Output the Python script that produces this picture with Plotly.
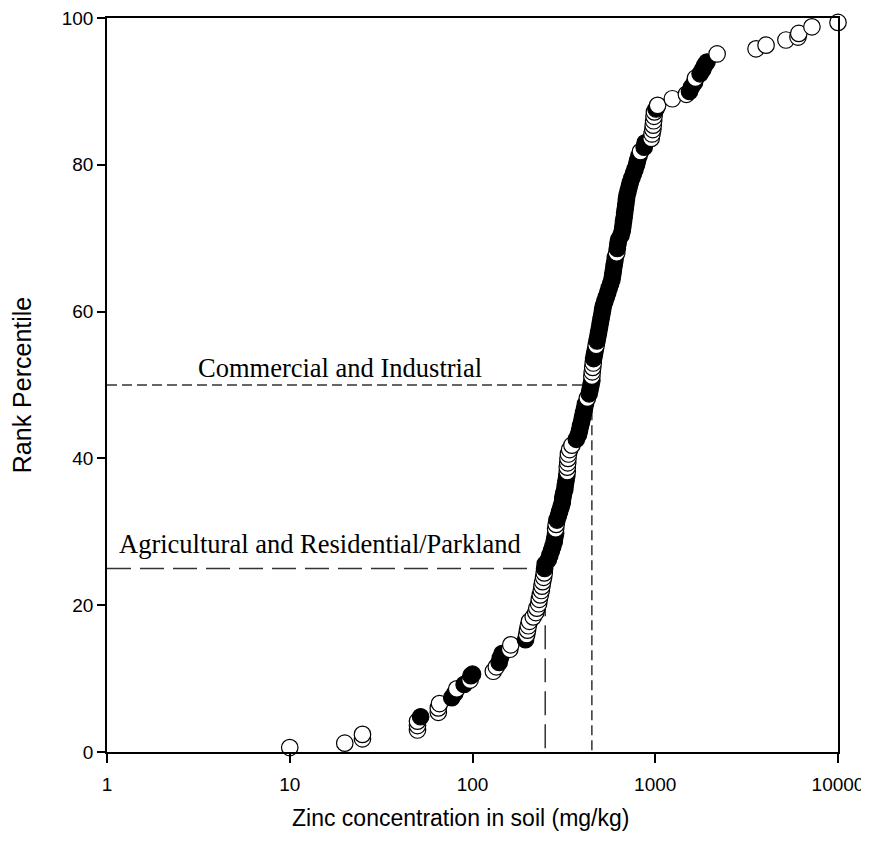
import plotly.graph_objects as go

# Zinc concentration (mg/kg), rank percentile, and sample group (1 = filled, 0 = open), in rank order
zinc = [10, 20, 25, 25, 50, 50, 50, 52, 65, 65, 66, 77, 80, 82, 90, 97, 98, 100,
        130, 135, 140, 142, 145, 160, 162, 195, 198, 200, 202, 205, 215, 222, 225,
        230, 232, 235, 238, 240, 242, 245, 247, 248, 250, 260, 265, 270, 275, 280,
        282, 285, 285, 287, 290, 295, 300, 305, 310, 312, 315, 320, 322, 325, 328,
        330, 330, 332, 333, 335, 340, 350, 370, 380, 385, 390, 395, 400, 405, 410,
        415, 425, 435, 440, 445, 450, 450, 452, 455, 458, 460, 465, 470, 475, 480,
        485, 490, 495, 500, 505, 510, 515, 520, 530, 540, 550, 560, 570, 580, 585,
        590, 595, 600, 605, 615, 620, 625, 630, 650, 660, 665, 670, 675, 680, 685,
        690, 695, 700, 710, 720, 730, 745, 760, 775, 790, 800, 815, 830, 870, 880,
        950, 960, 970, 975, 980, 985, 990, 1010, 1030, 1240, 1480, 1540, 1580, 1640,
        1660, 1760, 1820, 1870, 1920, 2180, 3560, 4040, 5190, 6040, 6100, 7200, 10000]
rank_pct = [0.6, 1.2, 1.8, 2.4, 3.0, 3.6, 4.2, 4.8, 5.4, 6.0, 6.6, 7.4, 8.0, 8.6, 9.2, 9.8, 10.4, 10.6,
            11.0, 11.6, 12.2, 12.8, 13.4, 14.0, 14.6, 15.3, 16.0, 16.6, 17.2, 17.8, 18.4, 19.0, 19.6,
            20.2, 20.8, 21.4, 22.0, 22.6, 23.2, 23.8, 24.4, 25.0, 25.6, 26.2, 26.8, 27.4, 28.0, 28.6,
            29.2, 29.8, 30.4, 31.0, 31.6, 32.2, 32.8, 33.4, 34.0, 34.6, 35.2, 35.8, 36.4, 37.0, 37.6,
            38.2, 38.8, 39.4, 40.0, 40.6, 41.2, 41.8, 42.6, 43.2, 43.8, 44.4, 45.0, 45.6, 46.2, 46.8,
            47.4, 48.2, 48.8, 49.4, 50.0, 50.6, 51.2, 51.8, 52.4, 53.0, 53.6, 54.2, 54.8, 55.4, 56.0,
            56.6, 57.2, 57.8, 58.4, 59.0, 59.6, 60.2, 60.8, 61.4, 62.0, 62.6, 63.2, 63.8, 64.4, 65.0,
            65.6, 66.2, 66.8, 67.4, 68.0, 68.6, 69.2, 69.8, 70.4, 71.0, 71.6, 72.2, 72.8, 73.4, 74.0,
            74.6, 75.2, 75.8, 76.4, 77.0, 77.6, 78.2, 78.8, 79.4, 80.0, 80.6, 81.2, 81.8, 82.4, 83.0,
            83.6, 84.2, 84.8, 85.4, 86.0, 86.6, 87.2, 87.6, 88.1, 89.0, 89.6, 90.0, 90.6, 91.2,
            91.8, 92.4, 93.0, 93.6, 94.0, 95.1, 95.8, 96.3, 97.0, 97.4, 97.9, 98.8, 99.4]
filled = [0, 0, 0, 0, 0, 0, 0, 1, 0, 0, 0, 1, 1, 0, 1, 0, 1, 1,
          0, 0, 1, 1, 1, 0, 0, 1, 0, 0, 0, 0, 0, 0, 0,
          0, 0, 0, 0, 0, 0, 0, 0, 1, 1, 1, 1, 1, 1, 1,
          1, 1, 0, 0, 1, 1, 1, 1, 1, 1, 1, 1, 1, 1, 1,
          0, 0, 0, 0, 0, 0, 0, 1, 1, 1, 1, 1, 1, 1, 1,
          1, 0, 1, 1, 1, 1, 0, 0, 0, 0, 1, 1, 1, 0, 1,
          1, 1, 1, 1, 1, 1, 1, 1, 1, 1, 1, 1, 1, 1, 1,
          1, 1, 1, 1, 0, 1, 1, 1, 1, 1, 1, 1, 1, 1, 1,
          1, 1, 1, 1, 1, 1, 1, 1, 1, 1, 1, 1, 0, 1, 1,
          0, 0, 0, 0, 0, 0, 0, 1, 0, 0, 0, 1, 1, 1,
          0, 1, 1, 1, 1, 0, 0, 0, 0, 0, 0, 0, 0]

# Guideline thresholds
commercial_x, commercial_y = 450, 50
agri_x, agri_y = 250, 25
x_ticks = [1, 10, 100, 1000, 10000]
x_ticktext = ["1", "10", "100", "1000", "10000"]
y_ticks = [0, 20, 40, 60, 80, 100]

fig = go.Figure()

line_col = "#333333"
fig.add_trace(go.Scatter(x=[1, commercial_x, commercial_x], y=[commercial_y, commercial_y, 0],
                         mode="lines", line=dict(color=line_col, width=1.5, dash="10px,5px"),
                         hoverinfo="skip", showlegend=False))
fig.add_trace(go.Scatter(x=[1, agri_x, agri_x], y=[agri_y, agri_y, 0],
                         mode="lines", line=dict(color=line_col, width=1.5, dash="24px,9px"),
                         hoverinfo="skip", showlegend=False))

fig.add_trace(go.Scatter(
    x=zinc, y=rank_pct, mode="markers", showlegend=False, cliponaxis=False,
    marker=dict(size=16.5, color=["black" if f else "white" for f in filled],
                line=dict(color="black", width=1.2))))

serif = "Liberation Serif, Times New Roman, serif"
fig.add_annotation(x=1.275, y=52.3, xref="x", yref="y", text="Commercial and Industrial",
                   showarrow=False, font=dict(family=serif, size=26.5, color="black"))
fig.add_annotation(x=1.166, y=28.3, xref="x", yref="y", text="Agricultural and Residential/Parkland",
                   showarrow=False, font=dict(family=serif, size=26.5, color="black"))

sans = "Liberation Sans, Arial, sans-serif"
fig.add_annotation(x=0.484, y=-0.09, xref="paper", yref="paper",
                   text="Zinc concentration in soil (mg/kg)", showarrow=False,
                   xanchor="center", yanchor="middle",
                   font=dict(family=sans, size=23, color="black"))
fig.add_annotation(x=-0.116, y=0.5, xref="paper", yref="paper",
                   text="Rank Percentile", showarrow=False, textangle=-90,
                   xanchor="center", yanchor="middle",
                   font=dict(family=sans, size=25, color="black"))

fig.update_xaxes(type="log", range=[0, 4], tickvals=x_ticks, ticktext=x_ticktext,
                 showline=True, linecolor="black", linewidth=1.5, mirror=True,
                 ticks="outside", ticklen=9, tickwidth=1.5, tickcolor="black",
                 ticklabelstandoff=5, ticklabeloverflow="allow", automargin=False,
                 showgrid=False, zeroline=False,
                 tickfont=dict(family=sans, size=19, color="black"))
fig.update_yaxes(range=[0, 100], tickvals=y_ticks,
                 showline=True, linecolor="black", linewidth=1.5, mirror=True,
                 ticks="outside", ticklen=8, tickwidth=1.5, tickcolor="black",
                 ticklabeloverflow="allow", automargin=False,
                 showgrid=False, zeroline=False,
                 tickfont=dict(family=sans, size=19, color="black"))

fig.update_layout(width=861, height=826, margin=dict(l=99, r=31, t=10, b=82),
                  plot_bgcolor="white", paper_bgcolor="white")

fig.write_html("out.html")
